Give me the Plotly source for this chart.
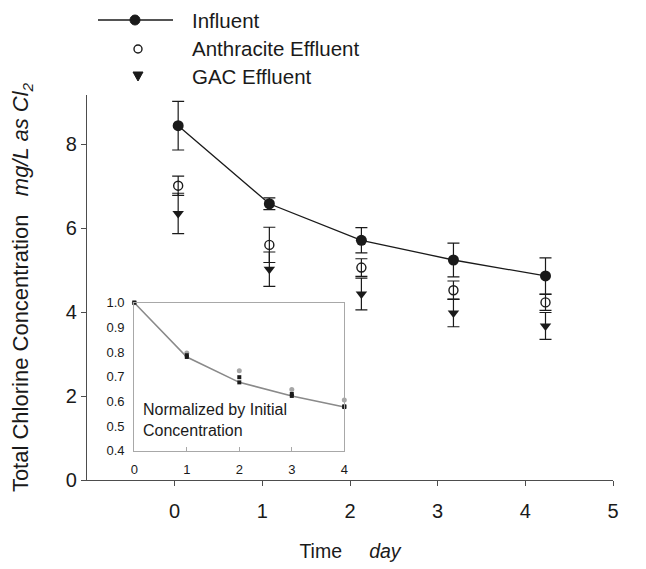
import plotly.graph_objects as go

# ---------------- data ----------------
days = [0.04, 1.08, 2.13, 3.18, 4.23]
influent = [8.44, 6.58, 5.71, 5.24, 4.86]
influent_err = [0.58, 0.14, 0.30, 0.40, 0.43]
anthracite = [7.01, 5.60, 5.06, 4.52, 4.23]
anthracite_err = [0.23, 0.42, 0.21, 0.22, 0.19]
gac = [6.35, 5.02, 4.43, 3.98, 3.67]
gac_err = [0.48, 0.41, 0.38, 0.33, 0.32]

inset_days = [0, 1, 2, 3, 4]
inset_influent = [1.0, 0.78, 0.677, 0.622, 0.577]
inset_anthracite = [1.0, 0.796, 0.724, 0.648, 0.606]
inset_gac = [1.0, 0.787, 0.698, 0.630, 0.580]

x_ticks = [0, 1, 2, 3, 4, 5]
y_ticks = [0, 2, 4, 6, 8]
inset_x_ticks = [0, 1, 2, 3, 4]
inset_y_ticks = [0.4, 0.5, 0.6, 0.7, 0.8, 0.9, 1.0]

legend_names = ["Influent", "Anthracite Effluent", "GAC Effluent"]

FONT = "Liberation Sans, Arial, sans-serif"
INK = "#1a1a1a"
AX = "#4d4d4d"

# page is offset by the 8px body margin, so the figure is 8px smaller
W, H = 638, 561
ML, MR, MT, MB = 79, 33, 87, 89
PW, PH = W - ML - MR, H - MT - MB
OFF = 8


def px_x(px):
    return (px - OFF - ML) / PW


def px_y(py):
    return (H + OFF - MB - py) / PH


fig = go.Figure()

eb = dict(type="data", color=INK, thickness=1.2, width=6)

fig.add_trace(go.Scatter(
    x=days, y=influent, mode="lines+markers", name=legend_names[0],
    line=dict(color=INK, width=1.3),
    marker=dict(symbol="circle", size=11, color=INK),
    error_y=dict(array=influent_err, **eb), showlegend=False,
    cliponaxis=False,
))
fig.add_trace(go.Scatter(
    x=days, y=anthracite, mode="markers", name=legend_names[1],
    marker=dict(symbol="circle-open", size=9, color=INK, line=dict(width=1.4)),
    error_y=dict(array=anthracite_err, **eb), showlegend=False,
    cliponaxis=False,
))
fig.add_trace(go.Scatter(
    x=days, y=gac, mode="markers", name=legend_names[2],
    marker=dict(symbol="triangle-down", size=10, color=INK),
    error_y=dict(array=gac_err, **eb), showlegend=False,
    cliponaxis=False,
))

# inset
fig.add_trace(go.Scatter(
    x=inset_days, y=inset_influent, mode="lines+markers", xaxis="x2", yaxis="y2",
    line=dict(color="#8a8a8a", width=1.6),
    marker=dict(symbol="square", size=4, color=INK), showlegend=False,
    cliponaxis=False,
))
fig.add_trace(go.Scatter(
    x=inset_days, y=inset_anthracite, mode="markers", xaxis="x2", yaxis="y2",
    marker=dict(symbol="circle", size=5, color="#a6a6a6"), showlegend=False,
    cliponaxis=False,
))
fig.add_trace(go.Scatter(
    x=inset_days, y=inset_gac, mode="markers", xaxis="x2", yaxis="y2",
    marker=dict(symbol="square", size=4, color=INK), showlegend=False,
    cliponaxis=False,
))

shapes = []
annotations = []

# manual legend
leg_rows = [20, 49, 76]
shapes.append(dict(type="line", xref="paper", yref="paper",
                   x0=px_x(98), x1=px_x(173), y0=px_y(leg_rows[0]), y1=px_y(leg_rows[0]),
                   line=dict(color=INK, width=1.3)))
r = 5
shapes.append(dict(type="circle", xref="paper", yref="paper",
                   x0=px_x(135 - r), x1=px_x(135 + r), y0=px_y(leg_rows[0] + r), y1=px_y(leg_rows[0] - r),
                   fillcolor=INK, line=dict(color=INK, width=1)))
r = 4
shapes.append(dict(type="circle", xref="paper", yref="paper",
                   x0=px_x(138 - r), x1=px_x(138 + r), y0=px_y(leg_rows[1] + r), y1=px_y(leg_rows[1] - r),
                   fillcolor="white", line=dict(color=INK, width=1.4)))
cx, cy = 138, leg_rows[2]
shapes.append(dict(type="path", xref="paper", yref="paper",
                   path=f"M {px_x(cx-5)} {px_y(cy-4)} L {px_x(cx+5)} {px_y(cy-4)} L {px_x(cx)} {px_y(cy+5)} Z",
                   fillcolor=INK, line=dict(color=INK, width=1)))
for name, row in zip(legend_names, leg_rows):
    annotations.append(dict(xref="paper", yref="paper", x=px_x(190), y=px_y(row),
                            text=name, showarrow=False, xanchor="left", yanchor="middle",
                            font=dict(family=FONT, size=20.5, color=INK)))

# inset label
annotations.append(dict(xref="x2", yref="y2", x=0.12, y=0.525,
                        text="Normalized by Initial<br>Concentration", showarrow=False,
                        xanchor="left", yanchor="middle", align="left",
                        font=dict(family=FONT, size=16, color=INK)))

fig.update_layout(
    width=W, height=H,
    margin=dict(l=ML, r=MR, t=MT, b=MB, autoexpand=False),
    paper_bgcolor="white", plot_bgcolor="white",
    font=dict(family=FONT, color=INK),
    shapes=shapes, annotations=annotations,
    xaxis=dict(
        range=[-1, 5], tickvals=x_ticks, showgrid=False, zeroline=False,
        showline=True, linecolor=AX, linewidth=1.3,
        ticks="outside", ticklen=5, tickcolor=AX, tickwidth=1.2,
        tickfont=dict(size=20, family=FONT, color=INK), ticklabelstandoff=8,
        title=dict(text="Time     <i>day</i>", font=dict(size=19.5, family=FONT, color=INK), standoff=23),
        automargin=False,
    ),
    yaxis=dict(
        range=[0, 9.17], tickvals=y_ticks, showgrid=False, zeroline=False,
        showline=True, linecolor=AX, linewidth=1.3,
        ticks="outside", ticklen=5, tickcolor=AX, tickwidth=1.2,
        tickfont=dict(size=20, family=FONT, color=INK),
        title=dict(text="Total Chlorine Concentration   <i>mg/L as Cl<sub>2</sub></i>",
                   font=dict(size=22, family=FONT, color=INK), standoff=31),
        automargin=False,
    ),
    xaxis2=dict(
        domain=[px_x(134.3), px_x(344.3)], anchor="y2", range=[0, 4],
        tickvals=inset_x_ticks, showgrid=False, zeroline=False,
        showline=True, mirror=True, linecolor="#a8a8a8", linewidth=1.3,
        ticks="inside", ticklen=4, tickcolor="#a8a8a8",
        tickfont=dict(size=13, family=FONT, color=INK), ticklabelstandoff=7,
        automargin=False,
    ),
    yaxis2=dict(
        domain=[px_y(450.7), px_y(302.7)], anchor="x2", range=[0.4, 1.0],
        tickvals=inset_y_ticks, tickformat=".1f", showgrid=False, zeroline=False,
        showline=True, mirror=True, linecolor="#a8a8a8", linewidth=1.3,
        ticks="", tickfont=dict(size=13, family=FONT, color=INK), ticklabelstandoff=6,
        automargin=False,
    ),
)

fig.write_html("out.html")
